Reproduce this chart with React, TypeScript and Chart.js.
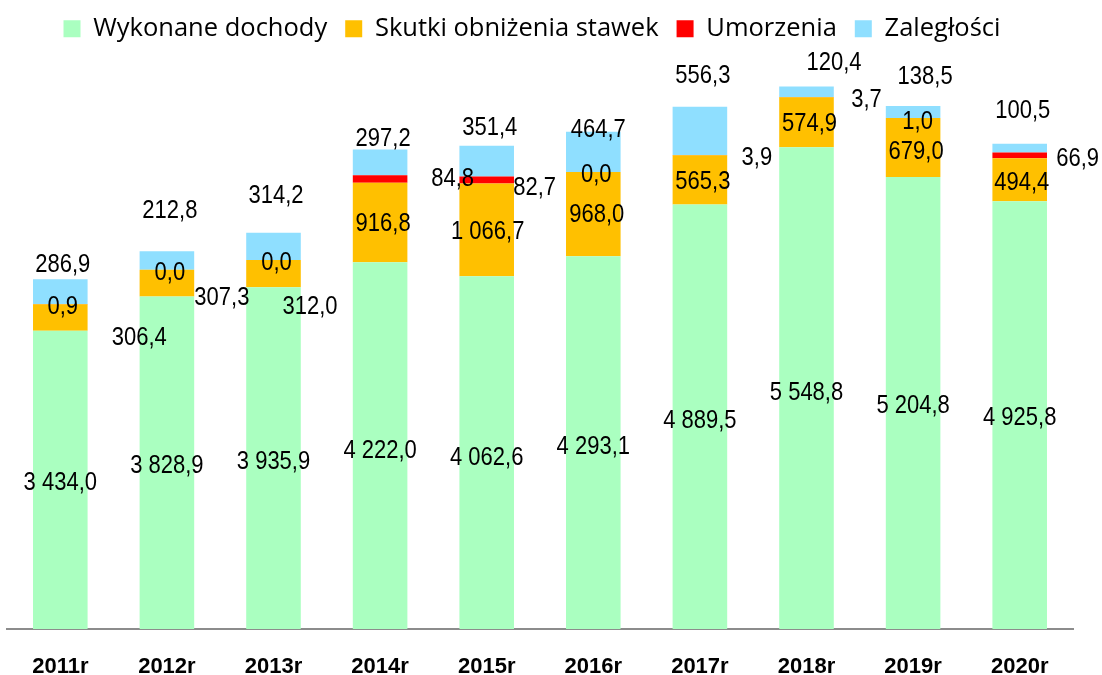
import React, { useEffect, useRef } from 'react';
import { Chart, registerables } from 'chart.js';

Chart.register(...registerables);

// ---- data ----
const years = ['2011r', '2012r', '2013r', '2014r', '2015r', '2016r', '2017r', '2018r', '2019r', '2020r'];
const wykonaneDochody = [3434.0, 3828.9, 3935.9, 4222.0, 4062.6, 4293.1, 4889.5, 5548.8, 5204.8, 4925.8];
const skutkiObnizenia = [306.4, 307.3, 312.0, 916.8, 1066.7, 968.0, 565.3, 574.9, 679.0, 494.4];
const umorzenia = [0.9, 0.0, 0.0, 84.8, 82.7, 0.0, 3.9, 3.7, 1.0, 66.9];
const zaleglosci = [286.9, 212.8, 314.2, 297.2, 351.4, 464.7, 556.3, 120.4, 138.5, 100.5];

// ---- label offsets (px, relative to segment centre) ----
const offGreen: [number, number][] = [[0, 1], [0, 1.5], [0, 2], [0, 3], [0, 3], [0, 2], [0, 2], [0, 2.5], [0, 1], [0, 1]];
const offOrange: [number, number][] = [[79, 18.5], [55, 13], [36.5, 31.5], [3, 0], [1, 0], [3.5, -1], [3, 0], [3, 0], [3, 3], [2, 1]];
const offRed: [number, number][] = [[2.5, 1], [3, 1], [3, 1], [72.5, -2], [48, 6], [3, 1], [57, 1], [60, 1], [4.5, 2.5], [58, 1.5]];
const offBlue: [number, number][] = [[2.5, -29], [3, -51.5], [2.5, -52], [3, -25.5], [3, -35], [5, -24], [3, -56.5], [27.5, -30.5], [12, -36.5], [3, -39]];
const offsets = [offGreen, offOrange, offRed, offBlue];

function fmt(v: number): string {
  const [i, d] = v.toFixed(1).split('.');
  const int = i.replace(/\B(?=(\d{3})+(?!\d))/g, ' ');
  return int + ',' + d;
}

const labelPlugin = {
  id: 'valueLabels',
  afterDatasetsDraw(chart: any) {
    const ctx = chart.ctx as CanvasRenderingContext2D;
    const size = 25;
    ctx.save();
    ctx.font = `${size}px "Liberation Sans", Arial, sans-serif`;
    ctx.fillStyle = '#000';
    ctx.textAlign = 'center';
    ctx.textBaseline = 'alphabetic';
    chart.data.datasets.forEach((ds: any, di: number) => {
      const meta = chart.getDatasetMeta(di);
      meta.data.forEach((el: any, i: number) => {
        const v = ds.data[i] as number;
        const cy = (el.y + el.base) / 2;
        const [dx, dy] = offsets[di][i];
        ctx.save();
        ctx.translate(el.x + dx, cy + dy + 0.358 * size);
        ctx.scale(0.88, 1);
        ctx.fillText(fmt(v), 0, 0);
        ctx.restore();
      });
    });
    ctx.restore();
  },
};

// shifts the legend a little to the left, as in the original
const legendShift = {
  id: 'legendShift',
  afterLayout(chart: any) {
    if (chart.legend) {
      chart.legend.left -= 8;
      chart.legend.right -= 8;
    }
  },
};

export default function App() {
  const ref = useRef<HTMLCanvasElement>(null);
  useEffect(() => {
    if (!ref.current) return;
    const chart = new Chart(ref.current, {
      type: 'bar',
      data: {
        labels: years,
        datasets: [
          { label: 'Wykonane dochody', data: wykonaneDochody, backgroundColor: '#AAFFC0' },
          { label: 'Skutki obniżenia stawek', data: skutkiObnizenia, backgroundColor: '#FFC000' },
          { label: 'Umorzenia', data: umorzenia, backgroundColor: '#FF0000' },
          { label: 'Zaległości', data: zaleglosci, backgroundColor: '#8FDFFF' },
        ],
      },
      options: {
        animation: false,
        responsive: true,
        maintainAspectRatio: false,
        datasets: { bar: { barPercentage: 0.512, categoryPercentage: 1, borderWidth: 0 } },
        layout: { padding: { left: 7, right: 29, top: -2, bottom: 0 } },
        plugins: {
          legend: {
            position: 'top',
            labels: {
              boxWidth: 17,
              boxHeight: 17,
              padding: 18,
              color: '#000',
              font: { family: '"Open Sans", sans-serif', size: 25.5 },
            },
          },
          tooltip: { enabled: false },
        },
        scales: {
          x: {
            stacked: true,
            grid: { display: false, drawTicks: false },
            border: { display: true, color: '#8c8c8c', width: 2 },
            ticks: {
              color: '#000',
              padding: 25,
              font: { family: '"Liberation Sans", Arial, sans-serif', size: 22, weight: 'bold' },
            },
            afterFit: (scale: any) => {
              scale.height = 46;
            },
          },
          y: {
            stacked: true,
            display: false,
            min: 0,
            max: 6650,
          },
        },
      },
      plugins: [labelPlugin, legendShift],
    });
    return () => chart.destroy();
  }, []);
  return (
    <div style={{ position: 'absolute', left: 0, top: 0, width: 1102, height: 675 }}>
      <canvas ref={ref} />
    </div>
  );
}
